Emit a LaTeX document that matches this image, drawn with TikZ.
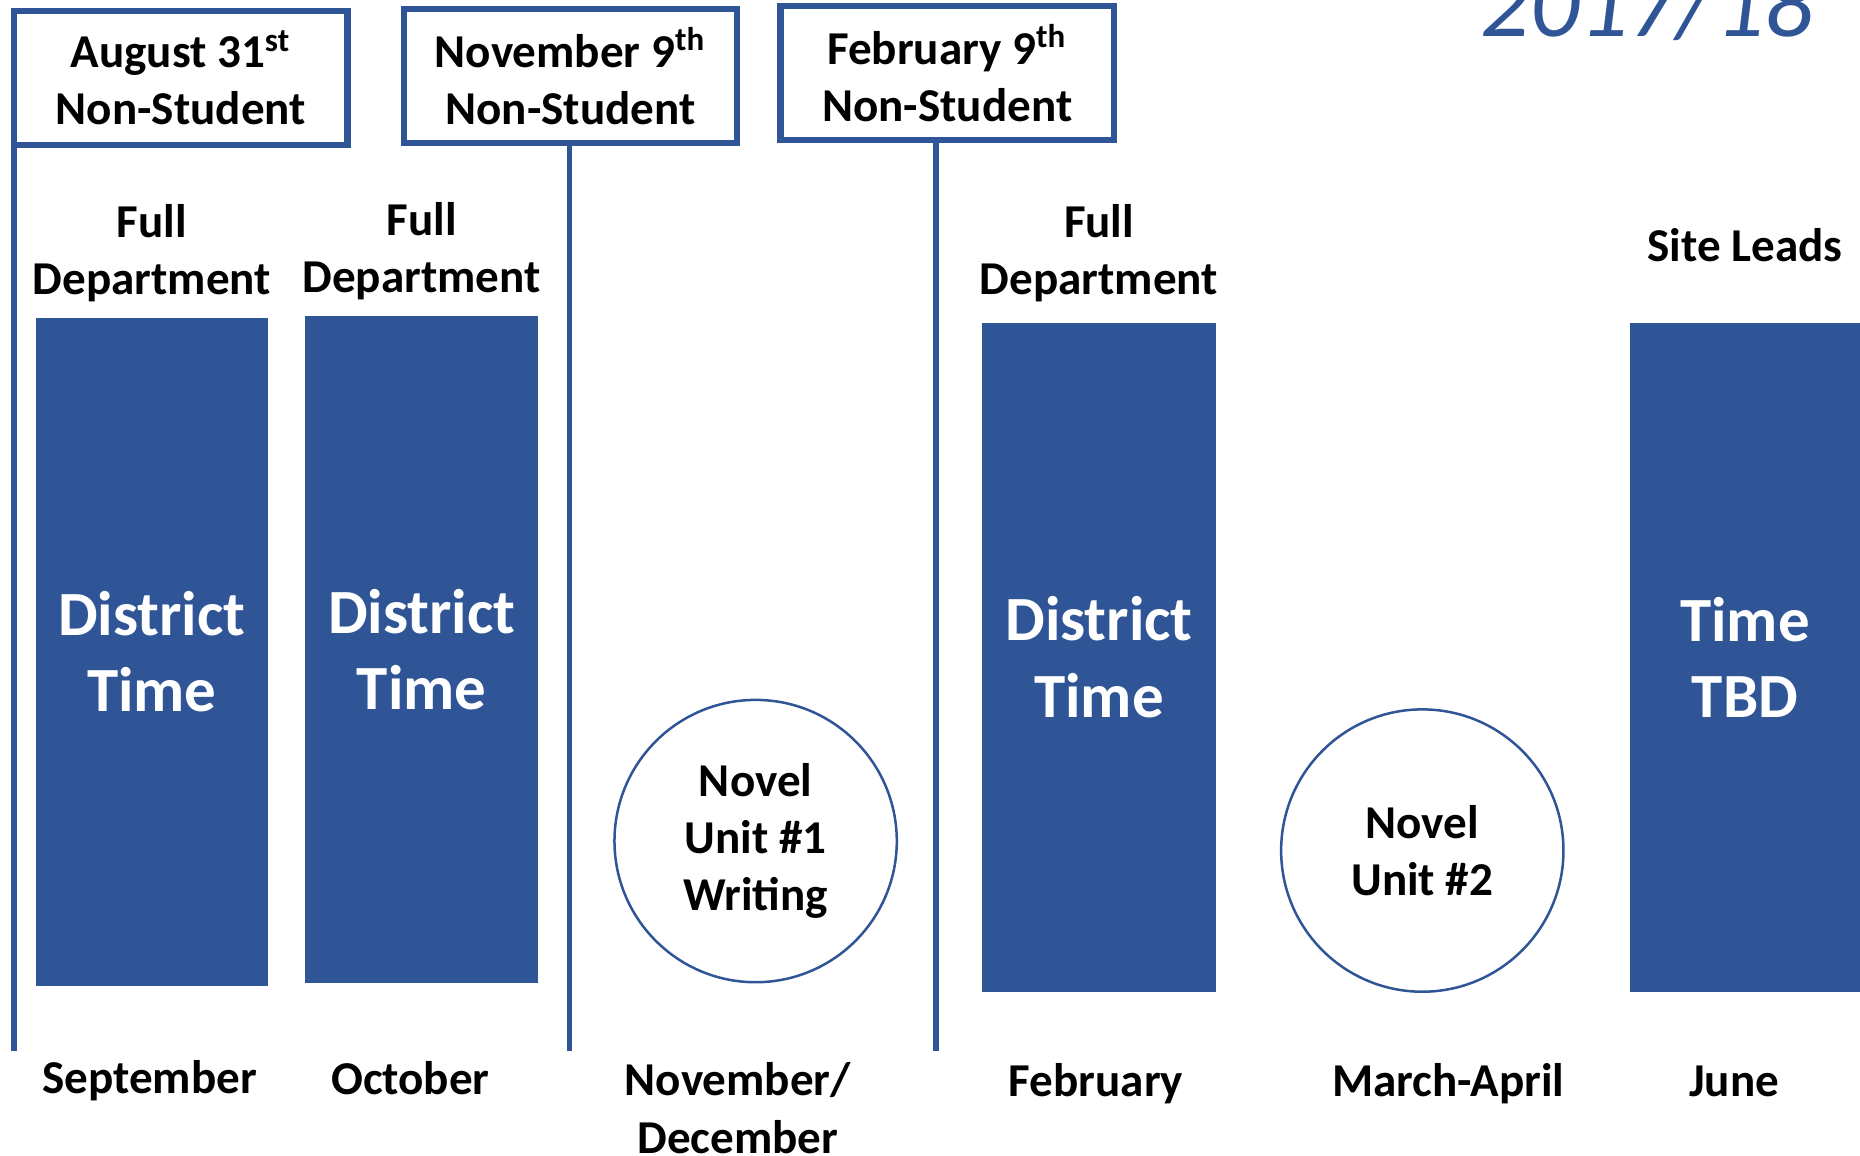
\documentclass[tikz,border=0pt]{standalone}
\usepackage{fontspec}
\setmainfont{Carlito}
\usetikzlibrary{positioning}
\definecolor{deptblue}{HTML}{2F5597}
\tikzset{
  lbl/.style={font=\bfseries\fontsize{11.3}{13.7}\selectfont, align=center, inner sep=0pt},
  datebox/.style={lbl, draw=deptblue, line width=1.5pt, outer sep=0pt,
    minimum width=2.81cm, minimum height=1.13cm},
  block/.style={fill=deptblue, text=white, minimum width=1.96cm, minimum height=5.63cm,
    font=\bfseries\fontsize{15.1}{18.3}\selectfont, align=center},
  unit/.style={lbl, circle, draw=deptblue, line width=0.6pt, minimum size=2.38cm},
  dayline/.style={draw=deptblue, line width=1.35pt}
}

\begin{document}
\begin{tikzpicture}

  \useasboundingbox (0,0) rectangle (15.68,-9.745);

  % non-student days
  \node (aug) [datebox] at (1.525,-0.655) {August 31\textsuperscript{st}\\Non-Student};
  \node (nov) [datebox] at (4.81,-0.64) {November 9\textsuperscript{th}\\Non-Student};
  \node (feb) [datebox] at (7.985,-0.615) {February 9\textsuperscript{th}\\Non-Student};

  \coordinate (augEnd) at (0.12,-8.86);
  \coordinate (novEnd) at (4.80,-8.86);
  \coordinate (febEnd) at (7.89,-8.86);

  \draw [dayline] (aug.south west) -- (augEnd);
  \draw [dayline] (nov.south -| novEnd) -- (novEnd);
  \draw [dayline] (feb.south -| febEnd) -- (febEnd);

  \node (year) [anchor=base west, text=deptblue, font=\itshape\fontsize{23.3}{28}\selectfont]
    at (12.36,-0.31) {2017/18};

  % district time blocks
  \node (sepDist) [block] at (1.28,-5.495) {District\\Time};
  \node (octDist) [block] at (3.555,-5.475) {District\\Time};
  \node (febDist) [block, minimum width=1.97cm, minimum height=5.64cm] at (9.265,-5.54) {District\\Time};
  \node (junTime) [block, minimum width=1.94cm, minimum height=5.64cm] at (14.71,-5.54) {Time\\TBD};

  \node (sepFull) [lbl, above=0.12cm of sepDist] {Full\\Department};
  \node (octFull) [lbl, above=0.12cm of octDist] {Full\\Department};
  \node (febFull) [lbl, above=0.16cm of febDist] {Full\\Department};
  \node (junSite) [lbl, above=0.5cm of junTime] {Site Leads};

  % novel units
  \node (novel1) [unit] at (6.37,-7.09) {Novel\\Unit \#1\\Writing\vphantom{p}};
  \node (novel2) [unit] at (11.99,-7.17) {Novel\\Unit \#2};

  % months
  \node (sep) [lbl, anchor=base] at (1.26,-9.22) {September};
  \node (oct) [lbl, anchor=base] at (3.46,-9.23) {October};
  \node (novdec) [lbl, anchor=base] at (6.22,-9.72) {November/\\December};
  \node (febm) [lbl, anchor=base] at (9.24,-9.24) {February};
  \node (mar) [lbl, anchor=base] at (12.21,-9.24) {March-April};
  \node (jun) [lbl, anchor=base] at (14.62,-9.24) {June};

\end{tikzpicture}
\end{document}
